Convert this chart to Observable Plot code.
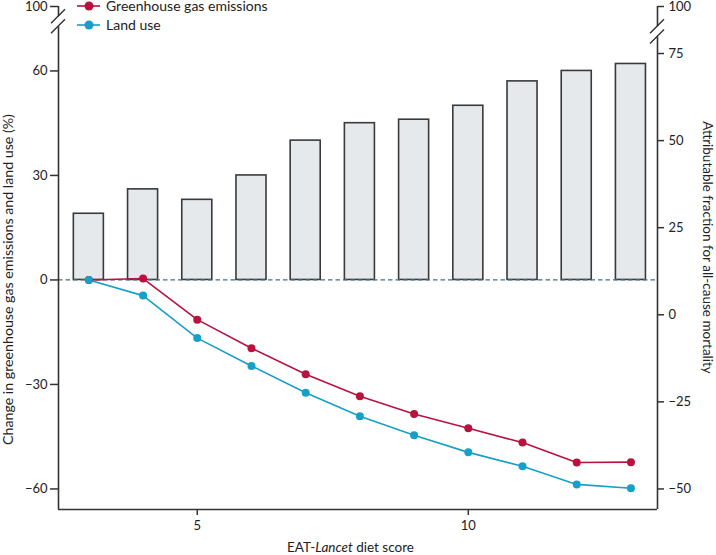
<!DOCTYPE html>
<html><head><meta charset="utf-8">
<script src="https://cdn.jsdelivr.net/npm/d3@7"></script>
<script src="https://cdn.jsdelivr.net/npm/@observablehq/plot@0.6"></script>
<style>
html,body{margin:0;padding:0;background:#fff;}
#chart{width:716px;height:555px;}
</style></head><body><div id="chart"></div>
<script>
// ---- data ----
const scores = [3, 4, 5, 6, 7, 8, 9, 10, 11, 12, 13];
const attributableFraction = [29, 36, 33, 40, 50, 55, 56, 60, 67, 70, 72];
const ghgChange = [0, 0.4, -11.4, -19.6, -27.1, -33.4, -38.5, -42.6, -46.7, -52.4, -52.3];
const landUseChange = [0, -4.5, -16.7, -24.7, -32.4, -39.1, -44.6, -49.5, -53.5, -58.7, -59.8];
const leftTicks = [-60, -30, 0, 30, 60];
const rightTicks = [-50, -25, 0, 25, 50, 75];
const xTicks = [5, 10];
const breakLabel = "100";
const seriesNames = ["Greenhouse gas emissions", "Land use"];
const seriesColors = ["#b8123f", "#169fc8"];
const leftTitle = "Change in greenhouse gas emissions and land use (%)";
const rightTitle = "Attributable fraction for all-cause mortality";

// ---- scale setup ----
const rightOffset = 10;          // right-axis value = left-axis value + 10
const yTop = 78.5;               // position of the broken "100" (left units)
const xDomain = [2.44, 13.49];
const yDomain = [-65.9, yTop];
const barHalf = 0.277;
const ink = "#333";

const bars = scores.map((s, i) => ({x1: s - barHalf, x2: s + barHalf, y1: 0, y2: attributableFraction[i] - rightOffset}));
const lineData = [
  ...scores.map((s, i) => ({score: s, value: ghgChange[i], series: seriesNames[0]})),
  ...scores.map((s, i) => ({score: s, value: landUseChange[i], series: seriesNames[1]}))
];
const fmt = d => (d < 0 ? "\u2212" + Math.abs(d) : String(d));

const plot = Plot.plot({
  width: 716, height: 555,
  marginTop: 6, marginBottom: 46, marginLeft: 58, marginRight: 59,
  style: {fontFamily: "Lato, sans-serif", fontSize: "13px", color: "#222", background: "#fff", overflow: "visible"},
  x: {domain: xDomain},
  y: {domain: yDomain},
  color: {domain: seriesNames, range: seriesColors},
  marks: [
    Plot.rect(bars, {x1: "x1", x2: "x2", y1: "y1", y2: "y2", fill: "#e6e9ec", stroke: "#3a3a3a", strokeWidth: 1.6}),
    Plot.ruleY([0], {x1: xDomain[0], x2: xDomain[1], stroke: "#41707f", strokeWidth: 1.2, strokeDasharray: "4.5,3"}),
    Plot.line(lineData, {x: "score", y: "value", z: "series", stroke: "series", strokeWidth: 1.6}),
    Plot.dot(lineData, {x: "score", y: "value", fill: "series", r: 4}),
    Plot.ruleX([xDomain[0]], {y1: yDomain[0], y2: yTop, stroke: ink, strokeWidth: 1.6}),
    Plot.ruleX([xDomain[1]], {y1: yDomain[0], y2: yTop, stroke: ink, strokeWidth: 1.6}),
    Plot.ruleY([yDomain[0]], {x1: xDomain[0], x2: xDomain[1], stroke: ink, strokeWidth: 1.6}),
    Plot.axisY([...leftTicks, yTop], {anchor: "left", tickSize: 8, tickPadding: 3, stroke: ink, strokeWidth: 1.5,
      tickFormat: d => d === yTop ? breakLabel : fmt(d), label: null}),
    Plot.axisY([...rightTicks.map(v => v - rightOffset), yTop], {anchor: "right", tickSize: 6, tickPadding: 5, stroke: ink, strokeWidth: 1.5,
      tickFormat: d => d === yTop ? breakLabel : fmt(d + rightOffset), label: null}),
    Plot.axisX(xTicks, {anchor: "bottom", tickSize: 6, tickPadding: 5, stroke: ink, strokeWidth: 1.5, label: null})
  ]
});
document.getElementById("chart").appendChild(plot);

// ---- decorations: axis breaks, titles, legend ----
const svg = d3.select(plot);
const xs = plot.scale("x"), ys = plot.scale("y");
const xL = xs.apply(xDomain[0]), xR = xs.apply(xDomain[1]);
const y0 = ys.apply(yTop), yBottom = ys.apply(yDomain[0]);

function axisBreak(x, c1, c2) {
  const g = svg.append("g");
  g.append("rect").attr("x", x - 2).attr("y", c1).attr("width", 4).attr("height", c2 - c1).attr("fill", "#fff");
  for (const c of [c1, c2]) {
    g.append("line").attr("x1", x - 7).attr("y1", c + 7).attr("x2", x + 7).attr("y2", c - 7)
      .attr("stroke", ink).attr("stroke-width", 1.5);
  }
}
axisBreak(xL, y0 + 10.3, y0 + 20.3);
axisBreak(xR, y0 + 20.3, y0 + 30.5);

const tf = "Lato, sans-serif";
svg.append("text").attr("transform", `translate(12.5,${(y0 + yBottom) / 2 + 22}) rotate(-90)`)
  .attr("text-anchor", "middle").attr("font-family", tf).attr("font-size", 14.2).attr("fill", "#222").text(leftTitle);
svg.append("text").attr("transform", `translate(703,${(y0 + yBottom) / 2 - 10}) rotate(90)`)
  .attr("text-anchor", "middle").attr("font-family", tf).attr("font-size", 13.5).attr("fill", "#222").text(rightTitle);

const xt = svg.append("text").attr("x", (xL + xR) / 2 - 7).attr("y", 552).attr("text-anchor", "middle")
  .attr("font-family", tf).attr("font-size", 13.5).attr("fill", "#222");
xt.append("tspan").text("EAT-");
xt.append("tspan").attr("font-style", "italic").text("Lancet");
xt.append("tspan").text(" diet score");

const lg = svg.append("g").attr("text-anchor", "start");
seriesNames.forEach((name, i) => {
  const cy = y0 + 19 * i;
  lg.append("line").attr("x1", xL + 19).attr("x2", xL + 42).attr("y1", cy).attr("y2", cy)
    .attr("stroke", seriesColors[i]).attr("stroke-width", 1.6);
  lg.append("circle").attr("cx", xL + 31).attr("cy", cy).attr("r", 4.5).attr("fill", seriesColors[i]);
  lg.append("text").attr("x", xL + 48).attr("y", cy).attr("dy", "0.36em").attr("text-anchor", "start")
    .attr("font-family", tf).attr("font-size", 14).attr("fill", "#222").text(name);
});
</script>
</body></html>
